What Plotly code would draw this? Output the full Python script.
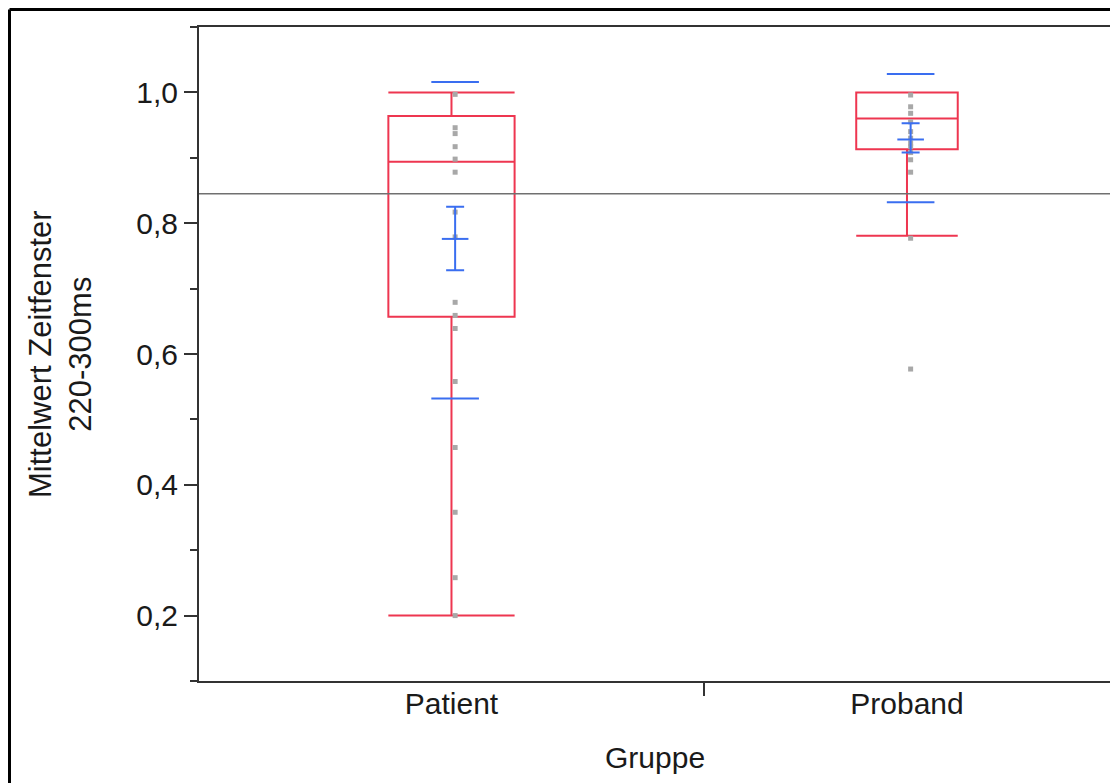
import plotly.graph_objects as go

# ---------------- data ----------------
groups = ["Patient", "Proband"]
group_share = [0.5543, 0.4457]          # x-axis proportional to group size

q1 = [0.657, 0.913]
median = [0.894, 0.960]
q3 = [0.964, 1.000]
lower_fence = [0.200, 0.781]
upper_fence = [1.000, 1.000]

means = [0.776, 0.928]
ci_lower = [0.728, 0.908]
ci_upper = [0.825, 0.953]
sd_lower = [0.532, 0.832]
sd_upper = [1.016, 1.028]

grand_mean = 0.845

patient_points = [0.997, 0.946, 0.937, 0.917, 0.898, 0.878, 0.817, 0.779,
                  0.679, 0.659, 0.639, 0.558, 0.457, 0.358, 0.258, 0.200]
proband_points = [0.996, 0.978, 0.968, 0.955, 0.940, 0.930, 0.922, 0.917,
                  0.908, 0.897, 0.878, 0.777, 0.577]
points = [patient_points, proband_points]

y_tickvals = [0.2, 0.4, 0.6, 0.8, 1.0]
y_ticktext = ["0,2", "0,4", "0,6", "0,8", "1,0"]

# ---------------- styling ----------------
RED = "#EE3650"
BLUE = "#3A6EF0"
GRAY = "#A8A8A8"
AXIS = "#333333"
FONT = "Liberation Sans, Arial, sans-serif"
TXT = "#1a1a1a"

W, H = 1118, 783
ML, MR, MT, MB = 191, 16, 19, 110   # compensates for the 8px page margin
PW = W - ML - MR
PH = H - MT - MB

def px_x(fx):   # figure pixel x -> paper
    return (fx - ML) / PW

def px_y(fy):   # figure pixel y -> paper
    return (H - MB - fy) / PH

# derived positions
starts, centers = [], []
acc = 0.0
for s in group_share:
    starts.append(acc)
    centers.append(acc + s / 2)
    acc += s
boundary = starts[1]
box_widths = [0.25 * s for s in group_share]
offset = 0.004

fig = go.Figure()

for i, g in enumerate(groups):
    fig.add_trace(go.Box(
        x=[centers[i]], q1=[q1[i]], median=[median[i]], q3=[q3[i]],
        lowerfence=[lower_fence[i]], upperfence=[upper_fence[i]],
        width=box_widths[i], whiskerwidth=1, boxpoints=False,
        line=dict(color=RED, width=2), fillcolor="rgba(0,0,0,0)",
        showlegend=False, hoverinfo="skip", name=g))

for i, g in enumerate(groups):
    fig.add_trace(go.Scatter(
        x=[centers[i] + offset] * len(points[i]), y=points[i], mode="markers",
        marker=dict(symbol="square", size=5, color=GRAY),
        showlegend=False, hoverinfo="skip"))

# grand mean reference line
fig.add_trace(go.Scatter(
    x=[0, 1], y=[grand_mean, grand_mean], mode="lines",
    line=dict(color="#707070", width=1.3), showlegend=False, hoverinfo="skip"))

for i, g in enumerate(groups):
    xc = centers[i] + offset
    # confidence interval with mean line
    fig.add_trace(go.Scatter(
        x=[xc], y=[means[i]], mode="markers",
        marker=dict(symbol="line-ew", size=19, line=dict(color=BLUE, width=2)),
        error_y=dict(type="data", symmetric=False,
                     array=[ci_upper[i] - means[i]],
                     arrayminus=[means[i] - ci_lower[i]],
                     color=BLUE, thickness=2, width=9),
        showlegend=False, hoverinfo="skip"))
    # standard deviation lines
    fig.add_trace(go.Scatter(
        x=[xc, xc], y=[sd_lower[i], sd_upper[i]], mode="markers",
        marker=dict(symbol="line-ew", size=34, line=dict(color=BLUE, width=2)),
        showlegend=False, hoverinfo="skip"))

fig.update_layout(
    width=W, height=H,
    margin=dict(l=ML, r=MR, t=MT, b=MB),
    paper_bgcolor="white", plot_bgcolor="white",
    boxmode="overlay",
    font=dict(family=FONT, size=30, color=TXT),
    xaxis=dict(
        range=[0, 1], showgrid=False, zeroline=False,
        showline=True, mirror=True, linecolor=AXIS, linewidth=2,
        tickmode="array", tickvals=centers, ticktext=groups, ticks="",
        ticklabelstandoff=-5,
        tickfont=dict(family=FONT, size=30, color=TXT),
        minor=dict(tickmode="array", tickvals=[boundary], ticks="outside",
                   ticklen=13, tickwidth=2, tickcolor=AXIS, showgrid=False),
    ),
    yaxis=dict(
        range=[0.1, 1.1], showgrid=False, zeroline=False,
        showline=True, mirror=True, linecolor=AXIS, linewidth=2,
        tickmode="array", tickvals=y_tickvals, ticktext=y_ticktext,
        ticks="outside", ticklen=13, tickwidth=2, tickcolor=AXIS,
        tickfont=dict(family=FONT, size=30, color=TXT),
        minor=dict(dtick=0.1, tick0=0.1, ticks="outside", ticklen=7,
                   tickwidth=2, tickcolor=AXIS, showgrid=False),
    ),
    annotations=[
        dict(text="Mittelwert Zeitfenster<br>220-300ms", textangle=-90,
             xref="paper", yref="paper", x=px_x(52), y=0.5,
             xanchor="center", yanchor="middle", showarrow=False,
             font=dict(family=FONT, size=31, color=TXT)),
        dict(text="Gruppe", xref="paper", yref="paper",
             x=0.5, y=px_y(749), xanchor="center", yanchor="middle",
             showarrow=False, font=dict(family=FONT, size=30, color=TXT)),
    ],
    shapes=[
        dict(type="line", xref="paper", yref="paper",
             x0=px_x(1.5), x1=px_x(W + 20),
             y0=px_y(1.5), y1=px_y(1.5),
             line=dict(color="black", width=3)),
        dict(type="line", xref="paper", yref="paper",
             x0=px_x(1.5), x1=px_x(1.5),
             y0=px_y(1.5), y1=px_y(H + 20),
             line=dict(color="black", width=3)),
    ],
)

fig.write_html("out.html")
